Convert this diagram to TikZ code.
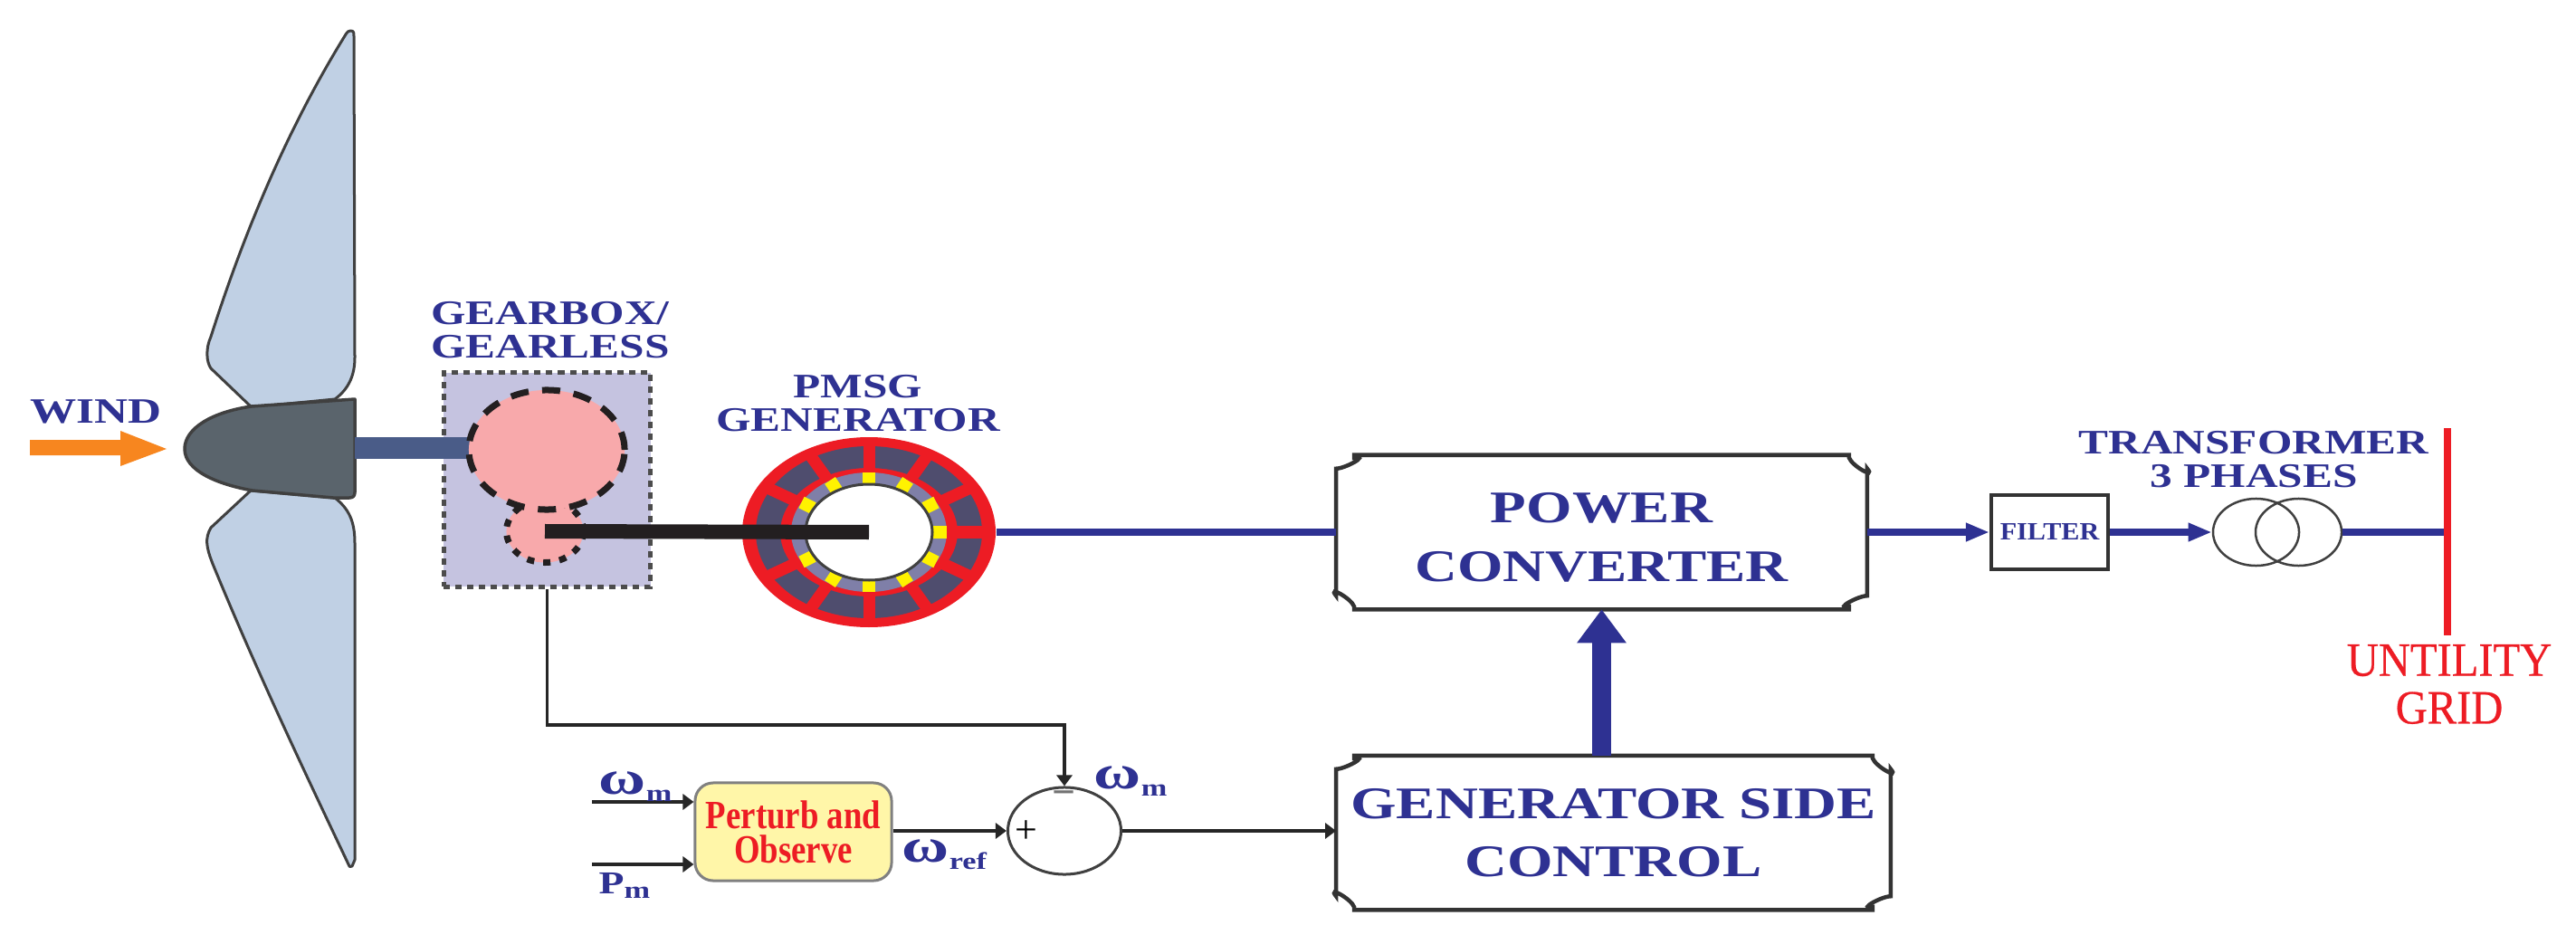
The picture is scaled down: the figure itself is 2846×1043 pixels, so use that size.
\documentclass[tikz,border=0pt]{standalone}
\usepackage{fontspec}
\usetikzlibrary{arrows.meta,calc,shapes.geometric}
\setmainfont{Liberation Serif}
\newfontfamily\wideb{Liberation Serif}[FakeStretch=1.3]
\newfontfamily\midb{Liberation Serif}[FakeStretch=1.1]
\newfontfamily\condr{Liberation Serif}[FakeStretch=0.83]
\newfontfamily\narr{Liberation Serif}[FakeStretch=0.92,FakeBold=0.5]
\newfontfamily\greekb{Liberation Serif}[FakeStretch=1.35]
\definecolor{bluec}{HTML}{2E3192}
\definecolor{redc}{HTML}{ED1C24}
\definecolor{bladec}{HTML}{C0D0E4}
\definecolor{hubc}{HTML}{5A646C}
\definecolor{shaftc}{HTML}{4A5C88}
\definecolor{boxc}{HTML}{C5C3E0}
\definecolor{gearc}{HTML}{F8A9AB}
\definecolor{slotc}{HTML}{4F4D6E}
\definecolor{ringc}{HTML}{7F7FA8}
\definecolor{yelc}{HTML}{FFF200}
\definecolor{orangec}{HTML}{F7861F}
\definecolor{inkc}{HTML}{231F20}
\definecolor{paleyel}{HTML}{FFF6A8}
\newcommand\lowm[1]{\raisebox{-0.17em}{\wideb\bfseries\fontsize{7.5}{8}\selectfont #1}}
\newcommand\plaque[1]{%
  \draw[plaqueline]
    ($(#1.north west)+(20,0)$) -- ($(#1.north east)+(-20,0)$)
    -- ++(0,3) .. controls +(3,9) and +(10,12) .. ++(20,12)
    -- ($(#1.south east)+(0,-15)$)
    .. controls +(-10,0) and +(-17,3) .. ++(-20,12) -- ++(0,3)
    -- ($(#1.south west)+(20,0)$)
    -- ++(0,-3) .. controls +(-3,-9) and +(-10,-12) .. ++(-20,-12)
    -- ($(#1.north west)+(0,15)$)
    .. controls +(10,0) and +(17,-3) .. ++(20,-12) -- cycle;}
\tikzset{
  lab/.style={text=bluec,align=center,inner sep=0pt,font=\wideb\bfseries\fontsize{10.8}{10.5}\selectfont},
  bigl/.style={text=bluec,align=center,inner sep=0pt,font=\wideb\bfseries\fontsize{14.2}{18.3}\selectfont},
  sym/.style={text=bluec,inner sep=0pt,font=\greekb\bfseries\fontsize{15}{15}\selectfont},
  gridl/.style={text=redc,align=center,inner sep=0pt,font=\narr\fontsize{15}{15}\selectfont},
  plaqueline/.style={draw=black!80,line width=0.045cm},
  thinl/.style={draw=black!85,line width=0.035cm,-{Triangle[length=0.12cm,width=0.17cm]}},
  powl/.style={draw=bluec,line width=0.085cm},
  powa/.style={powl,-{Triangle[length=0.26cm,width=0.19cm]}},
  blade/.style={draw=black!75,line width=0.03cm,fill=bladec,line join=round},
}
\begin{document}
\begin{tikzpicture}[x=0.01cm,y=-0.01cm]
\useasboundingbox (0,0) rectangle (2846,1043);
% blades and hub
\path[blade] (387,34) .. controls (391,34) and (391,36) .. (391,40) -- (392,395)
  .. controls (392,415) and (385,430) .. (370,441) -- (278,450) -- (233,407)
  .. controls (228,400) and (227,385) .. (233,372)
  .. controls (275,240) and (325,130) .. (382,38) .. controls (384,35) and (385,34) .. (387,34) -- cycle;
\path[blade] (389,957) .. controls (387,958) and (386,958) .. (385,955)
  .. controls (340,860) and (285,745) .. (235,623)
  .. controls (228,605) and (226,595) .. (233,583) -- (277,542) -- (370,550)
  .. controls (385,562) and (392,575) .. (392,600) -- (392,950) -- cycle;
\draw[draw=black!75,line width=0.035cm,fill=hubc,line join=round]
  (392,441) -- (278,449) .. controls (235,455) and (204,473) .. (204,496)
  .. controls (204,520) and (240,535) .. (279,542) -- (368,550) -- (386,550)
  .. controls (390,550) and (392,548) .. (392,544) -- cycle;
\coordinate (hubr) at (392,495);
% gearbox
\node[draw=black!70,fill=boxc,line width=0.05cm,dash pattern=on 0.07cm off 0.06cm,minimum width=2.28cm,minimum height=2.36cm,inner sep=0pt] (gb) at (604.5,530) {};
\draw[shaftc,line width=0.24cm] (hubr) -- (520,495) coordinate (gearin);
\node[ellipse,draw=inkc,fill=gearc,line width=0.07cm,dash pattern=on 0.08cm off 0.1cm,minimum width=0.85cm,minimum height=0.69cm,inner sep=0pt] (sg) at (602,587) {};
\node[ellipse,draw=inkc,fill=gearc,line width=0.07cm,dash pattern=on 0.2cm off 0.15cm,minimum width=1.72cm,minimum height=1.32cm,inner sep=0pt] (bg) at (604,497) {};
% generator
\fill[redc] (960,588) ellipse [x radius=140,y radius=105];
\fill[slotc,even odd rule] (960,588) ellipse [x radius=125,y radius=95] (960,588) ellipse [x radius=98,y radius=71];
\foreach \a in {0,30,...,330}
  \draw[redc,line width=0.13cm] ({960+90*cos(\a)},{588+66*sin(\a)}) -- ({960+132*cos(\a)},{588+100*sin(\a)});
\fill[ringc] (960,588) ellipse [x radius=86,y radius=66];
\foreach \a in {0,30,...,330}
  \draw[yelc,line width=0.14cm] ({960+71*cos(\a)},{588+53*sin(\a)}) -- ({960+86*cos(\a)},{588+66*sin(\a)});
\draw[black!75,fill=white,line width=0.03cm] (960,588) ellipse [x radius=70,y radius=53];
\node[ellipse,minimum width=2.8cm,minimum height=2.1cm,inner sep=0pt] (gen) at (960,588) {};
% main power path
\node[minimum width=5.85cm,minimum height=1.69cm,inner sep=0pt] (pc) at (1769.5,588) {};
\node[bigl] (pctext) at (1769.5,594) {POWER\\CONVERTER};
\plaque{pc}
\node[minimum width=6.11cm,minimum height=1.69cm,inner sep=0pt,bigl] (gsc) at (1782.5,920) {GENERATOR SIDE\\CONTROL};
\plaque{gsc}
\draw[powl] (gen.east) -- (pc.west);
\draw[inkc,line width=0.16cm] (sg.center) -- (gen.center);
\draw[bluec,line width=0.21cm,-{Triangle[length=0.37cm,width=0.52cm]}] (gsc.north -| pc.south) -- (pc.south);
\node[draw=black!80,line width=0.04cm,minimum width=1.29cm,minimum height=0.81cm,inner sep=0pt,text=bluec,font=\midb\bfseries\fontsize{7.8}{8}\selectfont] (filter) at (2264.5,588) {FILTER};
\draw[powa] (pc.east) -- (filter.west);
\node[ellipse,draw=black!75,line width=0.025cm,minimum width=0.95cm,minimum height=0.74cm,inner sep=0pt] (t1) at (2492.5,588) {};
\node[ellipse,draw=black!75,line width=0.025cm,minimum width=0.95cm,minimum height=0.74cm,inner sep=0pt] (t2) at (2539.5,588) {};
\draw[powa] (filter.east) -- (t1.west);
\coordinate (bustop) at (2704,473);
\coordinate (busbot) at (2704,702);
\draw[powl] (t2.east) -- (t2.east -| bustop);
\draw[redc,line width=0.085cm] (bustop) -- (busbot);
% control
\node[draw=black!50,fill=paleyel,line width=0.03cm,rounded corners=0.2cm,minimum width=2.17cm,minimum height=1.08cm,inner sep=0pt,align=center,text=redc,font=\condr\bfseries\fontsize{12.6}{10.8}\selectfont] (po) at (876.5,919) {Perturb and\\Observe};
\node[ellipse,draw=black!75,line width=0.03cm,minimum width=1.25cm,minimum height=0.96cm,inner sep=0pt] (sum) at (1176,918) {};
\coordinate (w1) at (654,886);
\coordinate (p1) at (654,955);
\draw[thinl] (w1) -- (w1 -| po.west);
\draw[thinl] (p1) -- (p1 -| po.west);
\draw[thinl] (po.east |- sum.west) -- (sum.west);
\draw[thinl] (sum.east) -- (sum.east -| gsc.west);
\draw[thinl] (gb.south) |- (sum.north |- 0,801) -- (sum.north);
\node[inner sep=0pt,font=\fontsize{12.5}{13}\selectfont,text=black] (plus) at (1134,919) {+};
\node[inner sep=0pt,font=\bfseries\fontsize{13}{13}\selectfont,text=black!55] (minus) at (1176,882) {−};
% labels
\node[lab,anchor=base,font=\wideb\bfseries\fontsize{11.2}{11}\selectfont] (wind) at (106,467) {WIND};
\fill[orangec] (33,486) coordinate (wa) -- (133,486) -- (133,476) -- (184,496) coordinate (wb) -- (133,515) -- (133,503) -- (33,503) -- cycle;
\node[lab] (gbl) at (608,365) {GEARBOX/\\GEARLESS};
\node[lab] (genl) at (948,446) {PMSG\\GENERATOR};
\node[lab] (trl) at (2490,508) {TRANSFORMER\\3 PHASES};
\node[gridl] (gridn) at (2706,756) {UNTILITY\\GRID};
\node[sym,anchor=base west] (s1) at (661,877) {ω\lowm{m}};
\node[sym,anchor=base west,font=\wideb\bfseries\fontsize{10}{11}\selectfont] (s2) at (661,987) {P\lowm{m}};
\node[sym,anchor=base west] (s3) at (996,952) {ω\lowm{ref}};
\node[sym,anchor=base west] (s4) at (1208,871) {ω\lowm{m}};
\end{tikzpicture}
\end{document}
